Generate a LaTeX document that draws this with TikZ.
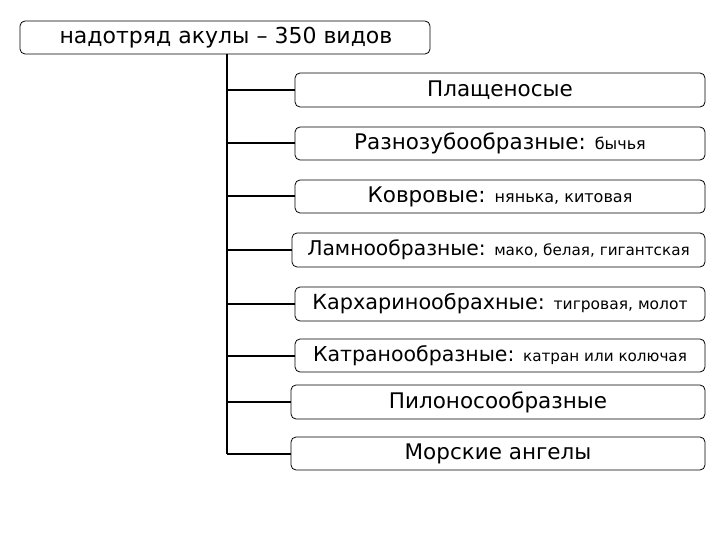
\documentclass[tikz,border=0pt]{standalone}
\usepackage{fontspec}
\setmainfont{DejaVu Sans}
\begin{document}
\begin{tikzpicture}[x=1pt,y=-1pt,
  bx/.style={draw=black,line width=0.8pt,rounded corners=5pt,fill=white},
  ln/.style={line width=2pt}]
\useasboundingbox (0,0) rectangle (720,540);
\def\B{\fontsize{21.5}{24}\selectfont}
\def\S{\fontsize{16}{18}\selectfont}
\def\b#1#2#3#4#5{\draw[bx] (#2,#3) rectangle (705,#3+#4);
  \node[inner sep=0pt] (#1) at ({(#2+705)/2},#3+#4/2) {#5};
  \coordinate (#1l) at (#2,#3+#4/2);}
\draw[bx] (20,21) rectangle (430,54);
\node[inner sep=0pt,font=\fontsize{22}{24}\selectfont] (top) at (226,38) {надотряд акулы – 350 видов};
\coordinate (tb) at (227,54);
\b{a}{295}{73}{34}{\B Плащеносые}
\b{b}{295}{127}{33}{\B Разнозубообразные: {\S бычья}}
\b{c}{295}{180}{33}{\B Ковровые: {\S нянька, китовая}}
\b{d}{292}{233}{34}{\fontsize{20.3}{24}\selectfont Ламнообразные: {\fontsize{15.2}{18}\selectfont мако, белая, гигантская}}
\b{e}{295}{287}{34}{\fontsize{20.8}{24}\selectfont Кархаринообрахные: {\fontsize{15.5}{18}\selectfont тигровая, молот}}
\b{f}{295}{339}{33}{\fontsize{20.5}{24}\selectfont Катранообразные: {\fontsize{15.2}{18}\selectfont катран или колючая}}
\b{g}{291}{385}{34}{\B Пилоносообразные}
\b{h}{291}{437}{33}{\B Морские ангелы}
\coordinate (vb) at (227,454);
\draw[ln] (tb) -- (vb);
\foreach \n in {a,b,c,d,e,f,g,h}{\draw[ln] (\n l) -- (227,0 |- \n l);}
\end{tikzpicture}
\end{document}
